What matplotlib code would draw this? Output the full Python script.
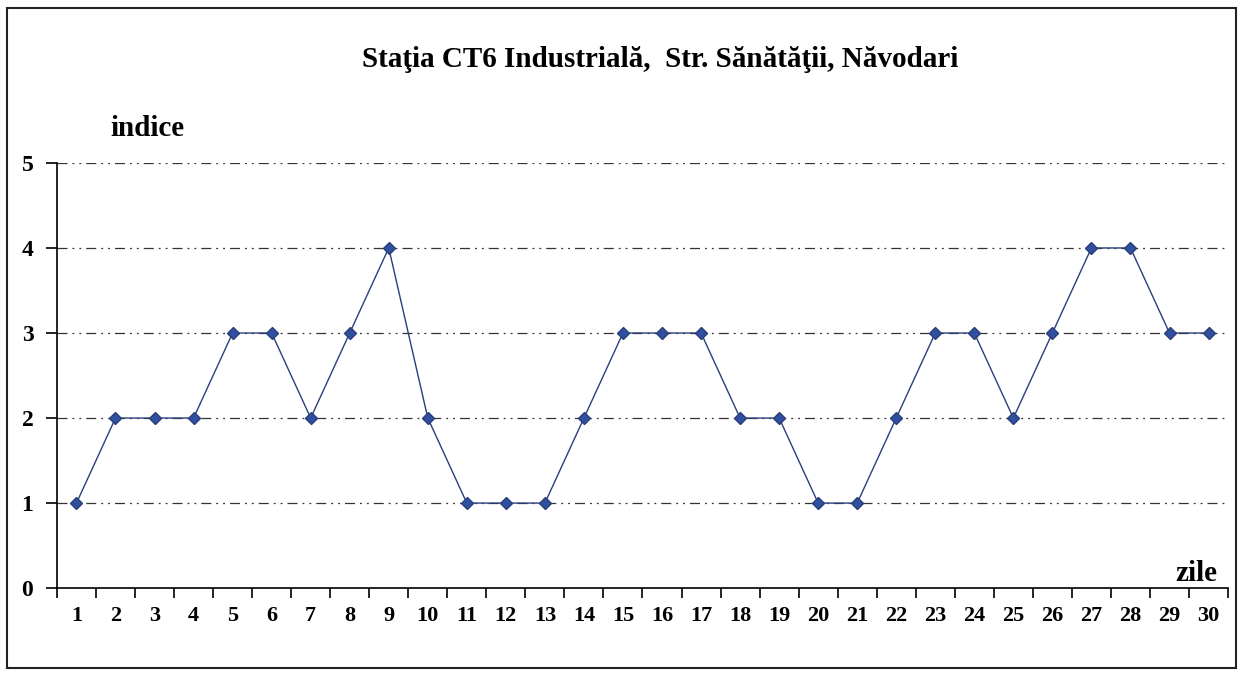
import matplotlib
matplotlib.use("Agg")
import matplotlib.pyplot as plt
from matplotlib.patches import Rectangle
import numpy as np

# zilele lunii si indicele zilnic
zile = list(range(1, 31))
indice = [1, 2, 2, 2, 3, 3, 2, 3, 4, 2,
          1, 1, 1, 2, 3, 3, 3, 2, 2, 1,
          1, 2, 3, 3, 2, 3, 4, 4, 3, 3]
y_ticks = [0, 1, 2, 3, 4, 5]
titlu = "Staţia CT6 Industrială,  Str. Sănătăţii, Năvodari"

plt.rcParams['font.family'] = ['Liberation Serif', 'DejaVu Serif']
plt.rcParams['font.weight'] = 'bold'

fig = plt.figure(figsize=(12.46, 6.76), dpi=100)
ax = fig.add_axes([0.0457, 0.130, 0.9399, 0.629])

ax.plot(zile, indice, color='#2a3f7a', linewidth=1.0, marker='D',
        markersize=6.5, markerfacecolor='#2f4f9f', markeredgecolor='#2a3f7a',
        zorder=3)

ax.set_xlim(0.5, 30.5)
ax.set_ylim(0, 5)

# gridlines dash-dot
for v in y_ticks[1:]:
    ax.axhline(v, color='#333333', linewidth=0.9, dashes=[8, 4, 1.5, 4, 1.5, 4], zorder=1)

ax.spines['top'].set_visible(False)
ax.spines['right'].set_visible(False)
ax.spines['left'].set_linewidth(1.2)
ax.spines['bottom'].set_linewidth(1.2)

ax.set_yticks(y_ticks)
ax.set_yticklabels([str(v) for v in y_ticks], fontsize=17, fontweight='bold')
ax.tick_params(axis='y', length=8, width=1.2, direction='out', pad=9)

# category ticks between days
ax.set_xticks(np.arange(0.5, 31, 1))
ax.set_xticklabels([])
ax.set_xticks(zile, minor=True)
ax.set_xticklabels([str(z) for z in zile], minor=True, fontsize=16, fontweight='bold')
ax.tick_params(axis='x', which='major', length=7, width=1.2, direction='out')
ax.tick_params(axis='x', which='minor', length=0, pad=13)

fig.text(0.530, 0.912, titlu, ha='center', va='center', fontsize=21, fontweight='bold')
fig.text(0.118, 0.810, "indice", ha='center', va='center', fontsize=21, fontweight='bold')
fig.text(0.960, 0.152, "zile", ha='center', va='center', fontsize=21, fontweight='bold')

fig.patches.append(Rectangle((0.006, 0.012), 0.986, 0.976, transform=fig.transFigure,
                             fill=False, edgecolor='#222222', linewidth=1.5))

fig.savefig("out.png", dpi=100)
